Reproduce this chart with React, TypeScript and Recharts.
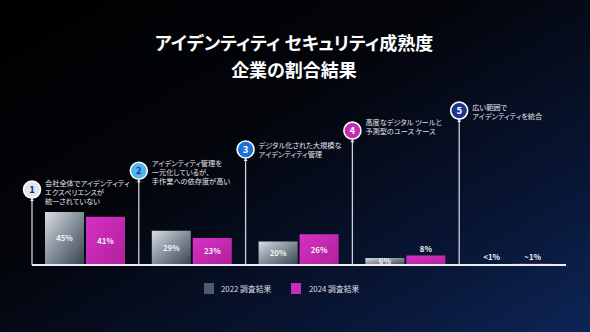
import React from 'react'
import { BarChart, Bar, XAxis, YAxis, ReferenceLine, LabelList } from 'recharts'

// maturity stages, left to right
const stages = ['1', '2', '3', '4', '5']
const descriptions = [
  ['会社全体でアイデンティティ', 'エクスペリエンスが', '統一されていない'],
  ['アイデンティティ管理を', '一元化しているが、', '手作業への依存度が高い'],
  ['デジタル化された大規模な', 'アイデンティティ管理'],
  ['高度なデジタル ツールと', '予測型のユース ケース'],
  ['広い範囲で', 'アイデンティティを統合'],
]
const values2022 = [45, 29, 20, 6, 0.5]
const values2024 = [41, 23, 26, 8, 1]
const labels2022 = ['45%', '29%', '20%', '6%', '<1%']
const labels2024 = ['41%', '23%', '26%', '8%', '~1%']
const seriesNames = ['2022 調査結果', '2024 調査結果']

const data = stages.map((s, i) => ({
  stage: s,
  y2022: values2022[i],
  y2024: values2024[i],
}))

// marker look per stage; level is the height of the marker in axis units
const MARKERS = [
  { fill: '#dfe5f1', num: '#1c2d6c', level: 64, dy: -6 },
  { fill: '#52b4ef', num: '#1c3c8c', level: 80, dy: -7 },
  { fill: '#1f6fd8', num: '#ffffff', level: 98, dy: -4 },
  { fill: '#c42cb2', num: '#ffffff', level: 114, dy: -8 },
  { fill: '#1b3491', num: '#ffffff', level: 131, dy: -3 },
]

const FONT = '"Noto Sans CJK JP", "Noto Sans", sans-serif'
const PALT = { fontFeatureSettings: '"palt"' }

function makeMarker(i: number) {
  return (props: any) => {
    const { x1, y1, y2 } = props
    const top = Math.min(y1, y2)
    const bottom = Math.max(y1, y2)
    const m = MARKERS[i]
    const r = 8.5
    return (
      <g>
        <line x1={x1} x2={x1} y1={top + r} y2={bottom} stroke="#cfd0d8" strokeWidth={1.3} />
        <path d={`M${x1 - 2},${top + r + 3} L${x1},${top + r} L${x1 + 2},${top + r + 3} Z`} fill="#e6e6ec" />
        <circle cx={x1} cy={top} r={r} fill={m.fill} stroke="#ffffff" strokeWidth={1.6} />
        <text x={x1} y={top + 3.3} textAnchor="middle" fontSize={9.5} fontWeight={700} fill={m.num} fontFamily={FONT}>
          {stages[i]}
        </text>
        {descriptions[i].map((line, k) => (
          <text key={k} x={x1 + 13} y={top + m.dy + k * 9 + 2.5} fontSize={7.2} fill="#e4e4ea"
            fontFamily={FONT} style={PALT}>
            {line}
          </text>
        ))}
      </g>
    )
  }
}

function makeBarLabel(labels: string[], insideMin: number, values: number[]) {
  return (props: any) => {
    const { x, y, width, height, index } = props
    const inside = values[index] >= insideMin
    const cy = inside ? y + height / 2 + 3 : y - 4
    return (
      <text x={x + width / 2} y={cy} textAnchor="middle" fontSize={7.8} fontWeight={700}
        fill="#f2f2f6" fontFamily={FONT}>
        {labels[index]}
      </text>
    )
  }
}

export default function App() {
  return (
    <div style={{
      position: 'relative', width: 590, height: 332, overflow: 'hidden',
      background: 'linear-gradient(150deg, #000000 0%, #03050b 40%, #081533 75%, #0d2556 100%)',
      fontFamily: FONT,
    }}>
      <style>{'body{margin:0}'}</style>
      <div style={{
        position: 'absolute', top: 29, left: 0, width: 588, textAlign: 'center',
        color: '#ffffff', fontWeight: 700, fontSize: 18, lineHeight: '26.5px', ...PALT,
      }}>
        アイデンティティ セキュリティ成熟度<br />企業の割合結果
      </div>
      <BarChart width={590} height={332} data={data} barSize={39} barGap={2}
        margin={{ top: 100, right: 24, bottom: 67, left: 32 }}
        style={{ position: 'absolute', top: 0, left: 0 }}>
        <defs>
          <linearGradient id="gray22" x1="0" y1="0" x2="1" y2="1">
            <stop offset="0%" stopColor="#d9dde2" />
            <stop offset="45%" stopColor="#8c95a0" />
            <stop offset="100%" stopColor="#374352" />
          </linearGradient>
          <linearGradient id="pink24" x1="0" y1="0" x2="1" y2="1">
            <stop offset="0%" stopColor="#d631c4" />
            <stop offset="100%" stopColor="#b1209c" />
          </linearGradient>
        </defs>
        <XAxis dataKey="stage" hide />
        <YAxis hide domain={[0, 140]} />
        <Bar dataKey="y2022" fill="url(#gray22)" isAnimationActive={false}>
          <LabelList dataKey="y2022" content={makeBarLabel(labels2022, 5, values2022)} />
        </Bar>
        <Bar dataKey="y2024" fill="url(#pink24)" isAnimationActive={false}>
          <LabelList dataKey="y2024" content={makeBarLabel(labels2024, 10, values2024)} />
        </Bar>
        <ReferenceLine y={0} stroke="#ececf2" strokeWidth={2} />
        {stages.map((s, i) => (
          <ReferenceLine key={s} position="start" ifOverflow="visible"
            segment={[{ x: s, y: 0 }, { x: s, y: MARKERS[i].level }]}
            shape={makeMarker(i)} />
        ))}
      </BarChart>
      <div style={{
        position: 'absolute', top: 283, left: 204, display: 'flex', alignItems: 'center',
        color: '#dedee4', fontSize: 7.8, ...PALT,
      }}>
        <span style={{ width: 10, height: 11, background: '#4d5a69', display: 'inline-block' }} />
        <span style={{ marginLeft: 7, width: 70 }}>{seriesNames[0]}</span>
        <span style={{ width: 10, height: 11, background: '#c72cbe', display: 'inline-block' }} />
        <span style={{ marginLeft: 8 }}>{seriesNames[1]}</span>
      </div>
    </div>
  )
}
